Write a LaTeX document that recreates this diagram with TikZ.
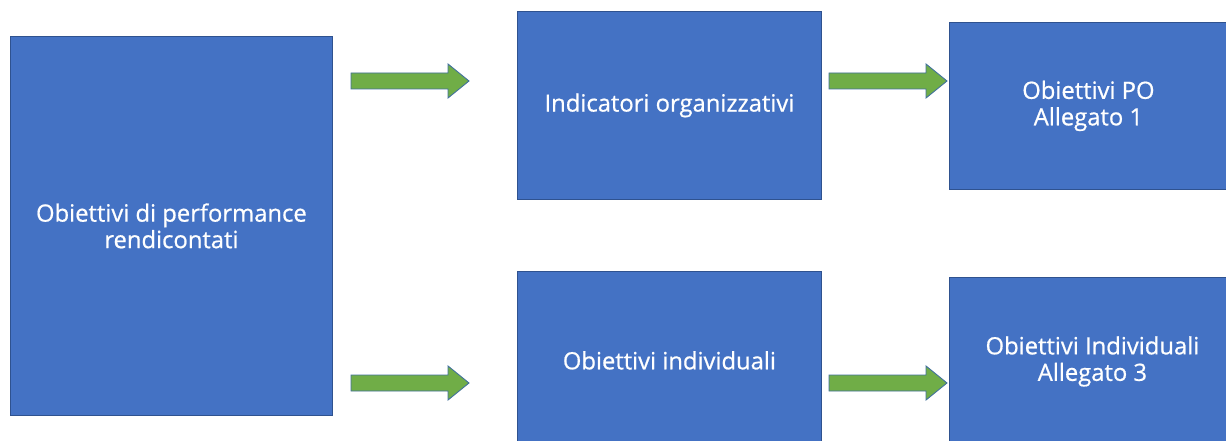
\documentclass[tikz,border=0pt]{standalone}
\usepackage{fontspec}
\setmainfont{Open Sans}[UprightFeatures={FakeBold=0.7}]
\definecolor{boxblue}{HTML}{4472C4}
\definecolor{boxedge}{HTML}{2F528F}
\definecolor{arrgreen}{HTML}{70AD47}
\definecolor{arredge}{HTML}{41719C}
\begin{document}
\begin{tikzpicture}[x=1pt,y=-1pt,
  box/.style={draw=boxedge, fill=boxblue, line width=0.8pt, text=white,
    font=\fontsize{23.8}{26.5}\selectfont, align=center, inner sep=0pt, anchor=north west},
  blockarrow/.style={draw=arredge, fill=arrgreen, line width=0.9pt, line join=miter}]
\useasboundingbox (0,0) rectangle (1226,441);
\clip (0,0) rectangle (1226,441);
\fill[white] (0,0) rectangle (1226,441);
\node[box, minimum width=322pt, minimum height=379pt] (perf) at (10,36) {Obiettivi di performance\\rendicontati};
\node[box, minimum width=304pt, minimum height=188pt] (ind) at (517,11) {Indicatori organizzativi};
\node[box, minimum width=278pt, minimum height=167pt] (po) at (949,22) {Obiettivi PO\\Allegato 1};
\node[box, minimum width=304pt, minimum height=178pt] (indiv) at (517,271) {Obiettivi individuali};
\node[box, minimum width=286pt, minimum height=168pt] (all3) at (949,277) {Obiettivi Individuali\\Allegato 3};
\coordinate (a1) at (351,81);
\coordinate (a2) at (829,81);
\coordinate (a3) at (351,383);
\coordinate (a4) at (829,383);
\foreach \c in {a1,a2,a3,a4}{
  \draw[blockarrow] (\c) ++(0,-8) -- ++(97,0) -- ++(0,-9) -- ++(21,17) -- ++(-21,17) -- ++(0,-9) -- ++(-97,0) -- cycle;
}
\end{tikzpicture}
\end{document}
